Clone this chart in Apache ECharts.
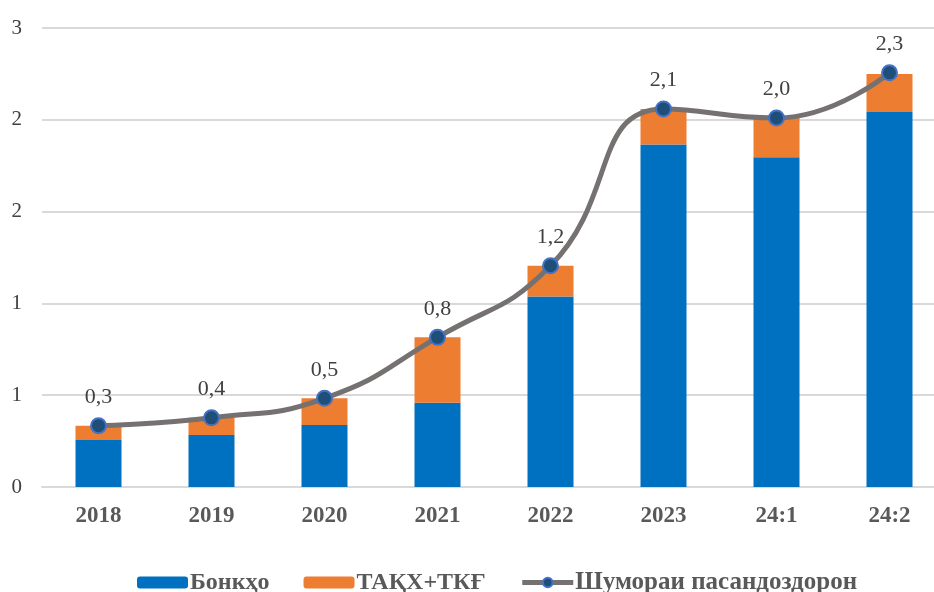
<!DOCTYPE html>
<html>
<head>
<meta charset="utf-8">
<script src="https://cdn.jsdelivr.net/npm/echarts@6/dist/echarts.min.js"></script>
<style>
  html, body { margin: 0; padding: 0; background: #fff; }
  #chart { width: 934px; height: 592px; }
</style>
</head>
<body>
<div id="chart"></div>
<script>
  // категорияҳо ва қиматҳо
  var categories = ['2018', '2019', '2020', '2021', '2022', '2023', '24:1', '24:2'];
  var banks = [0.256, 0.283, 0.338, 0.459, 1.037, 1.865, 1.796, 2.042];
  var mfo = [0.078, 0.094, 0.145, 0.356, 0.168, 0.194, 0.214, 0.207];
  var depositors = [0.334, 0.377, 0.483, 0.815, 1.205, 2.059, 2.010, 2.256];
  var yTicks = [0, 0.5, 1, 1.5, 2, 2.5];

  var chart = echarts.init(document.getElementById('chart'));
  var serif = 'Liberation Serif';

  var option = {
    animation: false,
    color: ['#0070C0', '#ED7D31', '#767171'],
    grid: {
      left: 42,
      top: 28,
      width: 904,
      height: 459,
      containLabel: false,
      outerBoundsMode: 'none'
    },
    legend: {
      top: 565,
      left: 132,
      itemWidth: 51,
      itemHeight: 12,
      itemGap: 34,
      textStyle: {
        fontFamily: serif,
        fontWeight: 'bold',
        fontSize: 24,
        color: '#595959',
        padding: [0, 0, 0, -3]
      },
      data: [
        { name: 'Бонкҳо' },
        { name: 'ТАҚХ+ТКҒ' },
        {
          name: 'Шумораи пасандоздорон',
          lineStyle: { color: '#767171', width: 5 },
          textStyle: { fontSize: 25 }
        }
      ]
    },
    xAxis: {
      type: 'category',
      data: categories,
      axisTick: { show: false },
      axisLine: { lineStyle: { color: '#d9d9d9', width: 2 } },
      axisLabel: {
        margin: 18,
        fontFamily: serif,
        fontWeight: 'bold',
        fontSize: 23,
        color: '#595959'
      }
    },
    yAxis: {
      type: 'value',
      min: yTicks[0],
      max: yTicks[yTicks.length - 1],
      interval: 0.5,
      axisLine: { show: false },
      axisTick: { show: false },
      splitLine: { lineStyle: { color: '#d9d9d9', width: 2 } },
      axisLabel: {
        margin: 20,
        fontFamily: serif,
        fontSize: 21,
        color: '#404040',
        formatter: function (v) { return String(Math.round(v)); }
      }
    },
    series: [
      {
        name: 'Бонкҳо',
        type: 'bar',
        stack: 'total',
        barWidth: 46,
        data: banks
      },
      {
        name: 'ТАҚХ+ТКҒ',
        type: 'bar',
        stack: 'total',
        barWidth: 46,
        data: mfo
      },
      {
        name: 'Шумораи пасандоздорон',
        type: 'line',
        smooth: 0.5,
        z: 5,
        symbol: 'circle',
        symbolSize: 15,
        lineStyle: { color: '#767171', width: 5 },
        itemStyle: {
          color: '#1F4E79',
          borderColor: '#4472C4',
          borderWidth: 2
        },
        label: {
          show: true,
          position: 'top',
          distance: 9,
          fontFamily: serif,
          fontSize: 22,
          color: '#404040',
          formatter: function (p) { return p.value.toFixed(1).replace('.', ','); }
        },
        data: depositors
      }
    ]
  };

  chart.setOption(option);
</script>
</body>
</html>
